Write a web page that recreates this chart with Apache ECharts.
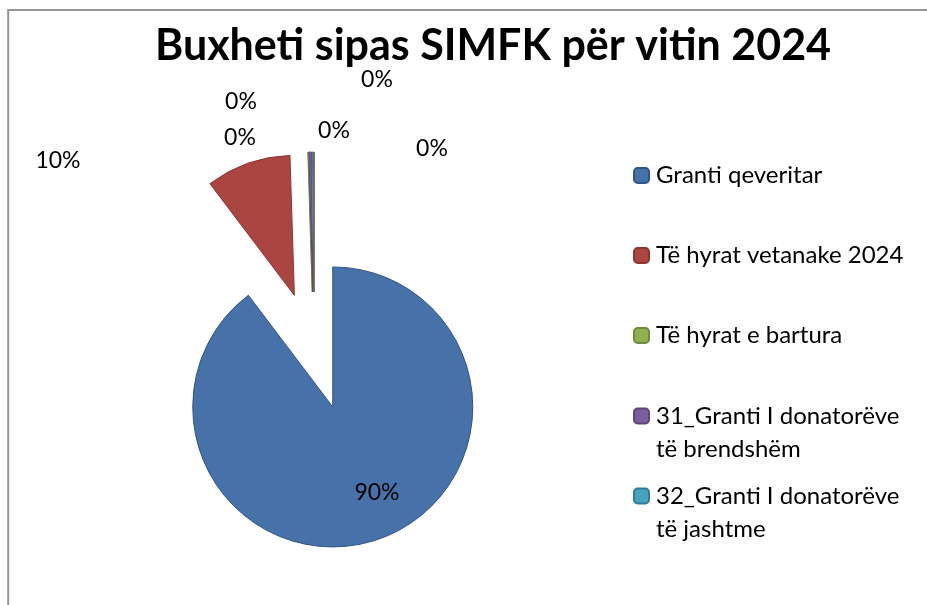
<!DOCTYPE html>
<html>
<head>
<meta charset="utf-8">
<script src="https://cdn.jsdelivr.net/npm/echarts@6/dist/echarts.min.js"></script>
<style>
html,body{margin:0;padding:0;background:#fff;}
#chart{width:927px;height:605px;}
</style>
</head>
<body>
<div id="chart"></div>
<script>
// ---- data ----
const chartTitle = 'Buxheti sipas SIMFK për vitin 2024';
const categories = [
  'Granti qeveritar',
  'Të hyrat vetanake 2024',
  'Të hyrat e bartura',
  '31_Granti I donatorëve të brendshëm',
  '32_Granti I donatorëve të jashtme',
  'Burim tjetër A',
  'Burim tjetër B'
];
const legendCategories = categories.slice(0, 5);
const values = [89.7, 9.8, 0.05, 0.3, 0.15, 0, 0];

// ---- styles / layout (not data) ----
const fillColors = ['#4672A9', '#AB4542', '#93B050', '#7A5E9F', '#45A3BE', '#F79646', '#888888'];
const borderColors = ['#2F5486', '#8A3532', '#6E8A3A', '#5A4478', '#2F7E95', '#B66D31', '#666666'];
const labelPos = [[377, 493], [58, 161], [334, 131], [377, 80], [432, 149], [241, 102], [240, 138]];
// wrapped legend labels: a leading blank line keeps the first text line level with the marker
const legendWrap = {
  '31_Granti I donatorëve të brendshëm': '\n31_Granti I donatorëve\ntë brendshëm',
  '32_Granti I donatorëve të jashtme': '\n32_Granti I donatorëve\ntë jashtme'
};
const FONT = 'Lato, "Noto Sans", sans-serif';
const LEG_LH = 33;

const legendText = {fontFamily: FONT, fontSize: 24, color: '#000', lineHeight: LEG_LH, padding: [0, 0, 0, 2]};
function makeLegend(names, top) {
  return {
    orient: 'vertical',
    left: 628,
    top: top,
    itemWidth: 15,
    itemHeight: 15,
    itemGap: 47,
    data: names,
    selectedMode: false,
    formatter: name => legendWrap[name] || name,
    textStyle: legendText
  };
}

const pieCenter = [314, 351];
const pieRadius = 140;

const chart = echarts.init(document.getElementById('chart'), null, {renderer: 'canvas'});
chart.setOption({
  animation: false,
  backgroundColor: '#ffffff',
  title: {
    text: chartTitle,
    left: 488,
    top: 16,
    textAlign: 'center',
    textStyle: {fontFamily: FONT, fontWeight: 'bold', fontSize: 43, lineHeight: 50, color: '#000'}
  },
  graphic: [{
    type: 'rect',
    silent: true,
    shape: {x: 8.2, y: 10, width: 2000, height: 2000},
    style: {fill: 'none', stroke: '#959595', lineWidth: 2}
  }],
  legend: [
    makeLegend(legendCategories.slice(0, 3), 154),
    makeLegend([legendCategories[3]], 416 - 54.5),
    makeLegend([legendCategories[4]], 496 - 54.5)
  ],
  series: [{
    // exploded slices
    type: 'pie',
    center: pieCenter,
    radius: pieRadius,
    startAngle: 90,
    clockwise: true,
    selectedMode: 'multiple',
    selectedOffset: 59,
    emphasis: {disabled: true},
    label: {show: false},
    labelLine: {show: false},
    data: categories.map((name, i) => ({
      name: name,
      value: values[i],
      selected: true,
      itemStyle: {color: fillColors[i], borderColor: borderColors[i], borderWidth: 1}
    }))
  }, {
    // percentage labels (same data, invisible sectors)
    type: 'pie',
    center: pieCenter,
    radius: pieRadius,
    startAngle: 90,
    clockwise: true,
    silent: true,
    selectedMode: false,
    avoidLabelOverlap: false,
    emphasis: {disabled: true},
    itemStyle: {color: 'rgba(0,0,0,0)', borderWidth: 0},
    label: {
      show: true,
      position: 'outside',
      fontFamily: FONT,
      fontSize: 23,
      color: '#000',
      formatter: p => Math.round(p.percent) + '%'
    },
    labelLine: {show: false},
    labelLayout: function (params) {
      const p = labelPos[params.dataIndex];
      return {x: p[0], y: p[1], align: 'center', verticalAlign: 'middle'};
    },
    data: categories.map((name, i) => ({name: name, value: values[i]}))
  }]
});
</script>
</body>
</html>
